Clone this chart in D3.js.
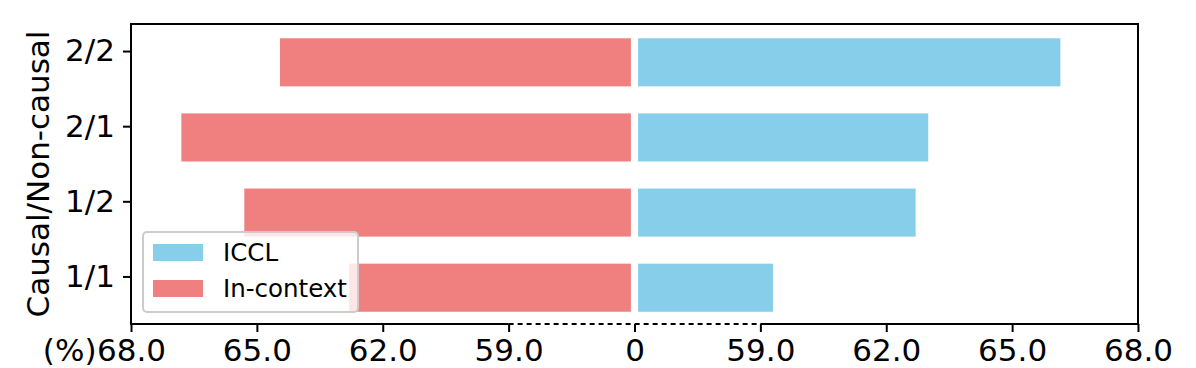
<!DOCTYPE html>
<head>
    <meta charset="utf-8">
</head>

<style type="text/css">

    body {
        margin: 0;
        background: #fff;
    }

    svg {
        display: block;
    }

    svg text {
        font-family: "DejaVu Sans", sans-serif;
    }

    .axis path.domain {
        display: none;
    }

    .axis line {
        stroke: #000;
        stroke-width: 2;
    }

    .axis text {
        font-size: 31px;
        fill: #000;
    }

    .spine {
        stroke: #000;
        stroke-width: 2;
        fill: none;
    }

    .spine-break {
        stroke: #000;
        stroke-width: 1.8;
        stroke-dasharray: 5 4;
    }

</style>

<body>
    <div class="g-chart-container"></div>
</body>

<script src="https://cdn.jsdelivr.net/npm/d3@7"></script>

<script>

// groups, bottom to top
var groups = ["1/1", "1/2", "2/1", "2/2"];
var icclValues = [59.3, 62.7, 63.0, 66.15];
var inContextValues = [62.8, 65.3, 66.8, 64.45];

// broken axis: 0 .. 59 is squeezed into one tick step, so values are shifted by this
var axisBase = 56;
var tickPositions = [-12, -9, -6, -3, 0, 3, 6, 9, 12];
var tickLabels = ["68.0", "65.0", "62.0", "59.0", "0", "59.0", "62.0", "65.0", "68.0"];

var seriesNames = ["ICCL", "In-context"];
var seriesColors = ["#87CEEB", "#F08080"];

var W = 1196, H = 368;
var margin = {top: 24, right: 58, bottom: 44, left: 131};

var w = W - margin.left - margin.right,
    h = H - margin.top - margin.bottom;

var svg = d3.select(".g-chart-container").append("svg")
    .attr("width", W)
    .attr("height", H)
  .append("g")
    .attr("transform", "translate(" + margin.left + "," + margin.top + ")");

var xscale = d3.scaleLinear()
    .domain([-12, 12])
    .range([0, w]);

var yscale = d3.scaleLinear()
    .domain([-0.633, 3.36])
    .range([h, 0]);

var barOffset = -0.15,
    barHeight = 0.64,
    gap = 3.6;

var data = groups.map(function(g, i) {
    return {group: g, i: i, iccl: icclValues[i], ctx: inContextValues[i]};
});

// In-context bars to the left
svg.append("g").selectAll(".bar-ctx")
    .data(data)
    .enter()
    .append("rect")
    .attr("class", "bar-ctx")
    .attr("fill", seriesColors[1])
    .attr("x", function(d) { return xscale(-(d.ctx - axisBase)); })
    .attr("width", function(d) { return xscale(0) - gap - xscale(-(d.ctx - axisBase)); })
    .attr("y", function(d) { return yscale(d.i + barOffset + barHeight / 2); })
    .attr("height", yscale(0) - yscale(barHeight));

// ICCL bars to the right
svg.append("g").selectAll(".bar-iccl")
    .data(data)
    .enter()
    .append("rect")
    .attr("class", "bar-iccl")
    .attr("fill", seriesColors[0])
    .attr("x", xscale(0) + gap)
    .attr("width", function(d) { return xscale(d.iccl - axisBase) - xscale(0) - gap; })
    .attr("y", function(d) { return yscale(d.i + barOffset + barHeight / 2); })
    .attr("height", yscale(0) - yscale(barHeight));

var xAxis = d3.axisBottom(xscale)
    .tickValues(tickPositions)
    .tickSize(8)
    .tickPadding(7)
    .tickFormat(function(d, i) { return tickLabels[i]; });

var xg = svg.append("g")
    .attr("class", "x axis")
    .attr("transform", "translate(0," + h + ")")
    .call(xAxis);

// "(%)" sits just left of the first tick label
var firstLabel = xg.select(".tick text").node().getBBox();
xg.append("text")
    .attr("x", xscale(tickPositions[0]) + firstLabel.x)
    .attr("y", 15)
    .attr("dy", "0.71em")
    .attr("text-anchor", "end")
    .text("(%)");

var yAxis = d3.axisLeft(yscale)
    .tickValues(d3.range(groups.length))
    .tickSize(8)
    .tickPadding(8)
    .tickFormat(function(d) { return groups[d]; });

svg.append("g")
    .attr("class", "y axis")
    .call(yAxis);

// frame, with a dashed bottom segment where the axis is broken
svg.append("path")
    .attr("class", "spine")
    .attr("d", "M" + xscale(-3) + "," + h + "H0V0H" + w + "V" + h + "H" + xscale(3));

svg.append("line")
    .attr("class", "spine-break")
    .attr("x1", xscale(-3)).attr("x2", xscale(3))
    .attr("y1", h).attr("y2", h);

svg.append("text")
    .attr("transform", "translate(" + (-93) + "," + (h / 2) + ") rotate(-90)")
    .attr("text-anchor", "middle")
    .attr("dy", "0.35em")
    .style("font-size", "31px")
    .text("Causal/Non-causal");

// legend
var legend = svg.append("g")
    .attr("transform", "translate(12,208)");

legend.append("rect")
    .attr("width", 215)
    .attr("height", 80)
    .attr("rx", 4)
    .attr("fill", "#fff")
    .attr("fill-opacity", 0.8)
    .attr("stroke", "#cccccc")
    .attr("stroke-width", 2);

var item = legend.selectAll(".legend-item")
    .data(seriesNames)
    .enter()
    .append("g")
    .attr("class", "legend-item")
    .attr("transform", function(d, i) { return "translate(10," + (12 + i * 36) + ")"; });

item.append("rect")
    .attr("width", 50)
    .attr("height", 17)
    .attr("fill", function(d, i) { return seriesColors[i]; });

item.append("text")
    .attr("x", 70)
    .attr("y", 17)
    .style("font-size", "24.5px")
    .text(function(d) { return d; });

</script>
